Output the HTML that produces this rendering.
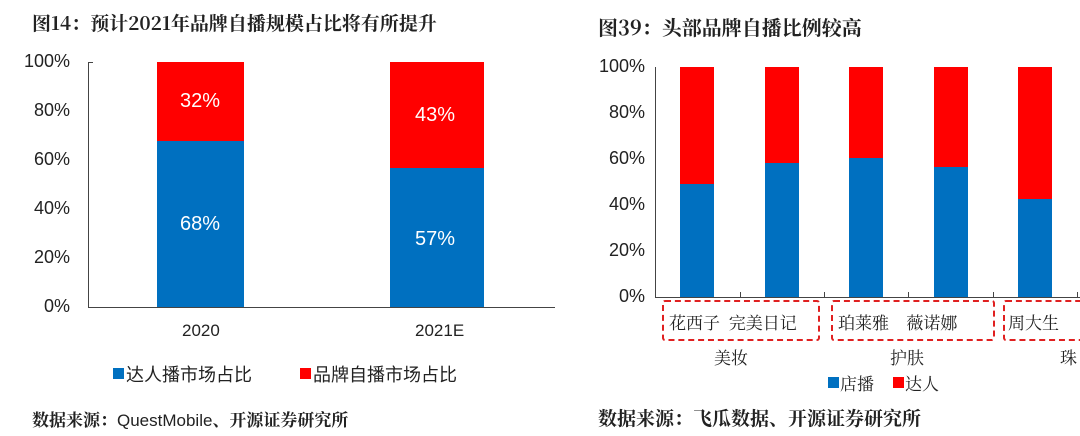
<!DOCTYPE html><html><head><meta charset="utf-8"><style>
body{margin:0;width:1080px;height:436px;background:#fff;position:relative;overflow:hidden;font-family:"Liberation Sans","Noto Sans CJK SC",sans-serif;color:#222}
.a{position:absolute;white-space:nowrap}
.s{font-family:"Noto Serif CJK SC","Liberation Serif",serif}
.b{position:absolute}
.yl{position:absolute;font-size:18px;text-align:right;width:60px}
.d{position:absolute;border:2.5px dashed #e02020;border-radius:3px}
</style></head><body>
<div class="a s" style="left:32px;top:9px;font-size:19px;font-weight:bold">图14：预计2021年品牌自播规模占比将有所提升</div>
<div class="yl" style="left:10px;top:51px">100%</div>
<div class="yl" style="left:10px;top:100px">80%</div>
<div class="yl" style="left:10px;top:149px">60%</div>
<div class="yl" style="left:10px;top:198px">40%</div>
<div class="yl" style="left:10px;top:247px">20%</div>
<div class="yl" style="left:10px;top:296px">0%</div>
<div class="b" style="left:88px;top:62px;width:1px;height:245px;background:#444"></div>
<div class="b" style="left:88px;top:307px;width:467px;height:1px;background:#444"></div>
<div class="b" style="left:88px;top:62px;width:5px;height:1px;background:#444"></div>
<div class="b" style="left:157px;top:62px;width:87px;height:79px;background:#ff0000"></div>
<div class="b" style="left:157px;top:141px;width:87px;height:166px;background:#0070c0"></div>
<div class="b" style="left:390px;top:62px;width:94px;height:106px;background:#ff0000"></div>
<div class="b" style="left:390px;top:168px;width:94px;height:139px;background:#0070c0"></div>
<div class="a" style="left:180px;top:90px;font-size:20px;color:#fff">32%</div>
<div class="a" style="left:180px;top:213px;font-size:20px;color:#fff">68%</div>
<div class="a" style="left:415px;top:104px;font-size:20px;color:#fff">43%</div>
<div class="a" style="left:415px;top:228px;font-size:20px;color:#fff">57%</div>
<div class="a" style="left:182px;top:321px;font-size:17px">2020</div>
<div class="a" style="left:415px;top:321px;font-size:17px">2021E</div>
<div class="b" style="left:113px;top:368px;width:11px;height:11px;background:#0070c0"></div>
<div class="a" style="left:126px;top:361px;font-size:18px">达人播市场占比</div>
<div class="b" style="left:300px;top:368px;width:11px;height:11px;background:#ff0000"></div>
<div class="a" style="left:313px;top:361px;font-size:18px">品牌自播市场占比</div>
<div class="a s" style="left:32px;top:406px;font-size:17px;font-weight:bold">数据来源：<span style="font-family:'Liberation Sans',sans-serif;font-weight:normal">QuestMobile</span>、开源证券研究所</div>

<div class="a s" style="left:598px;top:12px;font-size:20px;font-weight:bold">图39：头部品牌自播比例较高</div>
<div class="yl" style="left:585px;top:56px">100%</div>
<div class="yl" style="left:585px;top:102px">80%</div>
<div class="yl" style="left:585px;top:148px">60%</div>
<div class="yl" style="left:585px;top:194px">40%</div>
<div class="yl" style="left:585px;top:240px">20%</div>
<div class="yl" style="left:585px;top:286px">0%</div>
<div class="b" style="left:655px;top:67px;width:1px;height:230px;background:#444"></div>
<div class="b" style="left:655px;top:297px;width:425px;height:1px;background:#444"></div>
<div class="b" style="left:740px;top:292px;width:1px;height:5px;background:#444"></div>
<div class="b" style="left:824px;top:292px;width:1px;height:5px;background:#444"></div>
<div class="b" style="left:908px;top:292px;width:1px;height:5px;background:#444"></div>
<div class="b" style="left:993px;top:292px;width:1px;height:5px;background:#444"></div>
<div class="b" style="left:1077px;top:292px;width:1px;height:5px;background:#444"></div>
<div class="b" style="left:680px;top:67px;width:34px;height:117px;background:#ff0000"></div><div class="b" style="left:680px;top:184px;width:34px;height:113px;background:#0070c0"></div>
<div class="b" style="left:765px;top:67px;width:34px;height:96px;background:#ff0000"></div><div class="b" style="left:765px;top:163px;width:34px;height:134px;background:#0070c0"></div>
<div class="b" style="left:849px;top:67px;width:34px;height:91px;background:#ff0000"></div><div class="b" style="left:849px;top:158px;width:34px;height:139px;background:#0070c0"></div>
<div class="b" style="left:934px;top:67px;width:34px;height:100px;background:#ff0000"></div><div class="b" style="left:934px;top:167px;width:34px;height:130px;background:#0070c0"></div>
<div class="b" style="left:1018px;top:67px;width:34px;height:132px;background:#ff0000"></div><div class="b" style="left:1018px;top:199px;width:34px;height:98px;background:#0070c0"></div>
<div class="d" style="left:662px;top:300px;width:154px;height:37px"></div>
<div class="d" style="left:831px;top:300px;width:160px;height:37px"></div>
<div class="d" style="left:1003px;top:300px;width:90px;height:37px"></div>
<div class="a s" style="left:669px;top:309px;font-size:17px">花西子&nbsp;&nbsp;完美日记</div>
<div class="a s" style="left:838px;top:309px;font-size:17px">珀莱雅&nbsp;&nbsp;&nbsp;&nbsp;薇诺娜</div>
<div class="a s" style="left:1008px;top:309px;font-size:17px">周大生</div>
<div class="a s" style="left:714px;top:344px;font-size:17px">美妆</div>
<div class="a s" style="left:890px;top:344px;font-size:17px">护肤</div>
<div class="a s" style="left:1060px;top:344px;font-size:17px">珠</div>
<div class="b" style="left:828px;top:377px;width:11px;height:11px;background:#0070c0"></div>
<div class="a s" style="left:840px;top:370px;font-size:17px">店播</div>
<div class="b" style="left:893px;top:377px;width:11px;height:11px;background:#ff0000"></div>
<div class="a s" style="left:905px;top:370px;font-size:17px">达人</div>
<div class="a s" style="left:598px;top:404px;font-size:19px;font-weight:bold">数据来源：飞瓜数据、开源证券研究所</div>
</body></html>
